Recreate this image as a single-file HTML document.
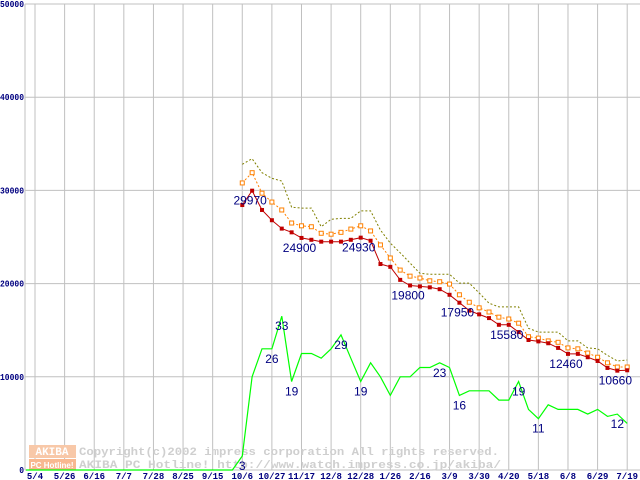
<!DOCTYPE html>
<html><head><meta charset="utf-8"><style>
html,body{margin:0;padding:0;background:#fff;}
svg{display:block;}
</style></head><body>
<svg id="chart" width="640" height="480" xmlns="http://www.w3.org/2000/svg">
<g id="grid"></g>
<g id="watermark">
  <rect x="29" y="445" width="47" height="13" fill="#f8c8a8"/>
  <text x="52" y="455" font-family="Liberation Mono, monospace" font-size="11" font-weight="bold" fill="#fff" text-anchor="middle">AKIBA</text>
  <rect x="29" y="459" width="47" height="11" fill="#f8b890"/>
  <text x="52" y="468" font-family="Liberation Sans, sans-serif" font-size="8" font-weight="bold" fill="#fff" text-anchor="middle">PC Hotline!</text>
  <text x="79" y="455" textLength="420" lengthAdjust="spacingAndGlyphs" font-family="Liberation Mono, monospace" font-size="11" font-weight="bold" fill="#cfcfcf">Copyright(c)2002 impress corporation All rights reserved.</text>
  <text x="79" y="468" textLength="422" lengthAdjust="spacingAndGlyphs" font-family="Liberation Mono, monospace" font-size="11" font-weight="bold" fill="#cfcfcf">AKIBA PC Hotline!  http://www.watch.impress.co.jp/akiba/</text>
</g>
<g id="series"></g>
<g id="labels"></g>
</svg>
<script>
const xTickLabels = ["5/4","5/26","6/16","7/7","7/28","8/25","9/15","10/6","10/27","11/17","12/8","12/28","1/26","2/16","3/9","3/30","4/20","5/18","6/8","6/29","7/19"];
const yTickValues = [0,10000,20000,30000,40000,50000];
const startWeek = 21;
const maxPrice = [32800,33400,31900,31300,31000,28200,28100,28100,26100,26900,27000,27000,27800,27800,25750,24350,23300,22200,21100,21000,21000,21000,20050,20050,19000,17900,17500,17500,17500,15200,14800,14800,14800,13850,13850,13100,13000,12300,11700,11800];
const avgPrice = [30800,31900,29700,28750,27900,26500,26200,26100,25400,25300,25500,25850,26200,25650,24150,22750,21450,20800,20600,20300,20200,19950,18800,18000,17400,16950,16400,16200,15750,14300,14150,13850,13700,13100,13000,12550,12100,11500,11050,11050];
const minPrice = [28430,29970,27900,26800,25900,25500,24900,24700,24500,24500,24500,24700,24930,24600,22100,21800,20400,19800,19700,19600,19400,18800,17950,17100,16700,16300,15580,15580,14800,13950,13800,13600,13100,12460,12460,12100,11700,10950,10660,10700];
const shopCount = [0,0,0,0,0,0,0,0,0,0,0,0,0,0,0,0,0,0,0,0,0,3,20,26,26,33,19,25,25,24,26,29,24,19,23,20,16,20,20,22,22,23,22,16,17,17,17,15,15,19,13,11,14,13,13,13,12,13,11.5,12,10];
const countScale = 500;
const priceLabelWeeks = [22,27,33,38,43,48,54,59];
const countLabelWeeks = [21,24,25,26,31,33,41,43,49,51,59];

const NS="http://www.w3.org/2000/svg";
const X0=35, WEEK=9.87, Y0=470, YTOP=4, VMAX=50000;
const xs=w=>X0+w*WEEK;
const ys=v=>Y0-(v/VMAX)*(Y0-YTOP);
function mk(tag,attrs,parent,txt){const e=document.createElementNS(NS,tag);for(const k in attrs)e.setAttribute(k,attrs[k]);if(txt!==undefined)e.textContent=txt;parent.appendChild(e);return e;}
const grid=document.getElementById('grid'), ser=document.getElementById('series'), lab=document.getElementById('labels');

yTickValues.forEach(v=>{
  const l=mk('line',{x1:25,x2:640,y1:ys(v),y2:ys(v),stroke:'#c0c0c0','stroke-width':1},grid);
  
  
  const s=String(v);
  const t=mk('text',{x:24,y:ys(v)+3,'text-anchor':'end','font-family':'Liberation Mono, monospace','font-size':9,'font-weight':'bold',fill:'#000080',textLength:s.length*4.8,lengthAdjust:'spacingAndGlyphs'},grid,s);
  
  
});
const ax=mk('line',{x1:25,x2:25,y1:YTOP,y2:Y0,stroke:'#c0c0c0','stroke-width':1},grid);


xTickLabels.forEach((s,i)=>{
  const x=xs(i*3);
  const l=mk('line',{x1:x,x2:x,y1:YTOP,y2:Y0,stroke:'#c0c0c0','stroke-width':1},grid);
  
  
  const t=mk('text',{x:x,y:479,'text-anchor':'middle','font-family':'Liberation Mono, monospace','font-size':9,'font-weight':'bold',fill:'#000080'},grid,s);
  
  
});

function pts(arr,off,f){return arr.map((v,i)=>xs(i+off).toFixed(1)+','+f(v).toFixed(1)).join(' ');}
const g=mk('polyline',{points:'26,'+Y0+' '+pts(shopCount,0,v=>ys(v*countScale)),fill:'none',stroke:'#00ff00','stroke-width':1.2},ser);


const mx=mk('polyline',{points:pts(maxPrice,startWeek,ys),fill:'none',stroke:'#808000','stroke-width':1,'stroke-dasharray':'2,2'},ser);


const av=mk('polyline',{points:pts(avgPrice,startWeek,ys),fill:'none',stroke:'#ff8000','stroke-width':1,'stroke-dasharray':'2,2'},ser);


avgPrice.forEach((v,i)=>{
  const r=mk('rect',{x:xs(i+startWeek)-2,y:ys(v)-2,width:4,height:4,fill:'#fff',stroke:'#ff8000','stroke-width':1},ser);
  
  
});
const mn=mk('polyline',{points:pts(minPrice,startWeek,ys),fill:'none',stroke:'#c00000','stroke-width':1},ser);


minPrice.forEach((v,i)=>{
  const r=mk('rect',{x:xs(i+startWeek)-2,y:ys(v)-2,width:4,height:4,fill:'#c00000'},ser);
  
  
});
priceLabelWeeks.forEach(w=>{
  const v=minPrice[w-startWeek];
  const t=mk('text',{x:xs(w)-2,y:ys(v)+14,'text-anchor':'middle','font-family':'Liberation Sans, sans-serif','font-size':12,fill:'#000080'},lab,String(v));
  
  
});
countLabelWeeks.forEach(w=>{
  const v=shopCount[w];
  const t=mk('text',{x:xs(w),y:ys(v*countScale)+14,'text-anchor':'middle','font-family':'Liberation Sans, sans-serif','font-size':12,fill:'#000080'},lab,String(Math.round(v)));
  
  
});
</script>
</body></html>
